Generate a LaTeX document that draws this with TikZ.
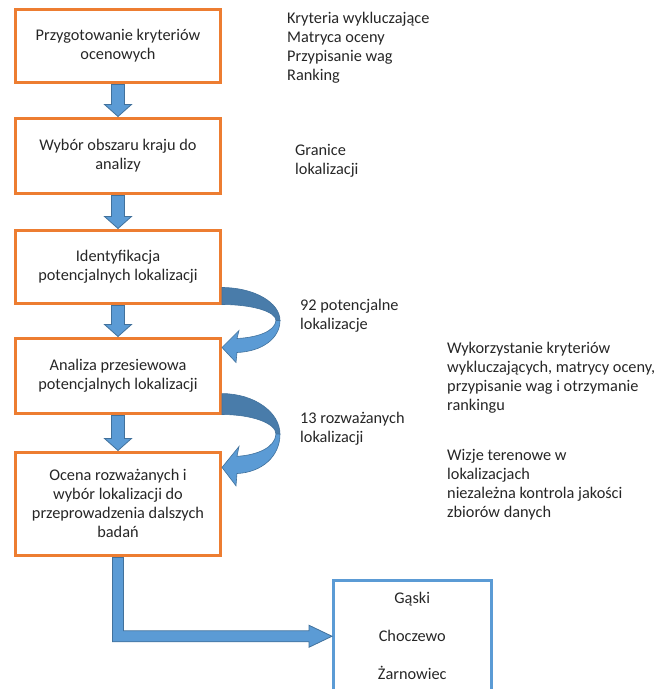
\documentclass[tikz,border=0pt]{standalone}
\usepackage{fontspec}
\setmainfont{Carlito}
\usetikzlibrary{calc}
\definecolor{orng}{HTML}{ED7D31}
\definecolor{bluebox}{HTML}{5B9BD5}
\definecolor{arrfill}{HTML}{5B9BD5}
\definecolor{arrline}{HTML}{41719C}
\definecolor{arrdark}{HTML}{497CAA}
\definecolor{txt}{HTML}{262626}
\newcommand\mainfs{\fontsize{16.3}{19}\selectfont}
\newcommand\downarr[2]{%
  \draw[blockarrow] let \p1=(#1.south), \p2=(#2.north) in
   (\x1-6.5pt,\y1-1pt) -- (\x1+6.5pt,\y1-1pt) -- (\x1+6.5pt,\y2+12pt)
   -- (\x1+13.5pt,\y2+12pt) -- (\x1,\y2) -- (\x1-13.5pt,\y2+12pt)
   -- (\x1-6.5pt,\y2+12pt) -- cycle;}
\newcommand\curvarr[2]{%
  \begin{scope}[shift={(#1.south east)}, yscale=#2]
    \filldraw[fill=arrdark, draw=arrline, line width=0.6pt]
      (0,-17) .. controls (32,-17) and (58,-2) .. (58,16)
      -- (54,16) .. controls (54,7) and (30,0) .. (0,0) -- cycle;
    \filldraw[fill=arrfill, draw=arrline, line width=0.6pt, line join=miter]
      (58,16) .. controls (58,34) and (40,47) .. (15,48)
      -- (14,58) -- (0,43) -- (17,26) -- (15,34)
      .. controls (35,33) and (53,27) .. (54,16) -- cycle;
  \end{scope}}
\begin{document}
\begin{tikzpicture}[x=1pt,y=-1pt,
  procbox/.style={draw=orng, line width=3pt, minimum width=205pt, align=center, font=\mainfs, inner sep=2pt, text=txt},
  resbox/.style={draw=bluebox, line width=2.5pt, minimum width=158pt, align=center, font=\mainfs, inner sep=2pt, text=txt},
  note/.style={anchor=north west, inner sep=0pt, align=left, font=\mainfs, text=txt},
  blockarrow/.style={fill=arrfill, draw=arrline, line width=0.8pt, line join=miter},
  ]
\useasboundingbox (0,0) rectangle (656,689);
\clip (0,0) rectangle (656,689);

\node[procbox, minimum height=73pt] (b1) at (118,45.5) {Przygotowanie kryteriów\\ocenowych};
\node[procbox, minimum height=75pt] (b2) at (118,155.5) {Wybór obszaru kraju do\\analizy};
\node[procbox, minimum height=73pt] (b3) at (118,266.5) {Identyfikacja\\potencjalnych lokalizacji};
\node[procbox, minimum height=75pt] (b4) at (118,375.5) {Analiza przesiewowa\\potencjalnych lokalizacji};
\node[procbox, minimum height=103pt] (b5) at (118,503.5) {Ocena rozważanych i\\wybór lokalizacji do\\przeprowadzenia dalszych\\badań};
\node[resbox, minimum height=112pt, anchor=north west] (res) at (332,579) {Gąski\\[19pt]Choczewo\\[19pt]Żarnowiec};

\node[note] (n1) at (287,9.7) {\strut Kryteria wykluczające\\\strut Matryca oceny\\\strut Przypisanie wag\\\strut Ranking};
\node[note] (n2) at (295,141.7) {\strut Granice\\\strut lokalizacji};
\node[note] (n3) at (300,296.7) {\strut 92 potencjalne\\\strut lokalizacje};
\node[note] (n4) at (300,409.7) {\strut 13 rozważanych\\\strut lokalizacji};
\node[note] (n5) at (447,339.7) {\strut Wykorzystanie kryteriów\\\strut wykluczających, matrycy oceny,\\\strut przypisanie wag i otrzymanie\\\strut rankingu};
\node[note] (n6) at (447,446.7) {\strut Wizje terenowe w\\\strut lokalizacjach\\\strut niezależna kontrola jakości\\\strut zbiorów danych};

\downarr{b1}{b2}
\downarr{b2}{b3}
\downarr{b3}{b4}
\downarr{b4}{b5}

\curvarr{b3}{1}
\curvarr{b4}{1.23}

\draw[blockarrow] let \p1=(b5.south), \p2=(res.west) in
  (\x1-5.5pt,\y1-1pt) -- (\x1+5.5pt,\y1-1pt) -- (\x1+5.5pt,\y2+5.5pt)
  -- (\x2-23pt,\y2+5.5pt) -- (\x2-23pt,\y2+11pt) -- (\x2,\y2)
  -- (\x2-23pt,\y2-11pt) -- (\x2-23pt,\y2-5.5pt) -- (\x1-5.5pt,\y2-5.5pt) -- cycle;
\end{tikzpicture}
\end{document}
